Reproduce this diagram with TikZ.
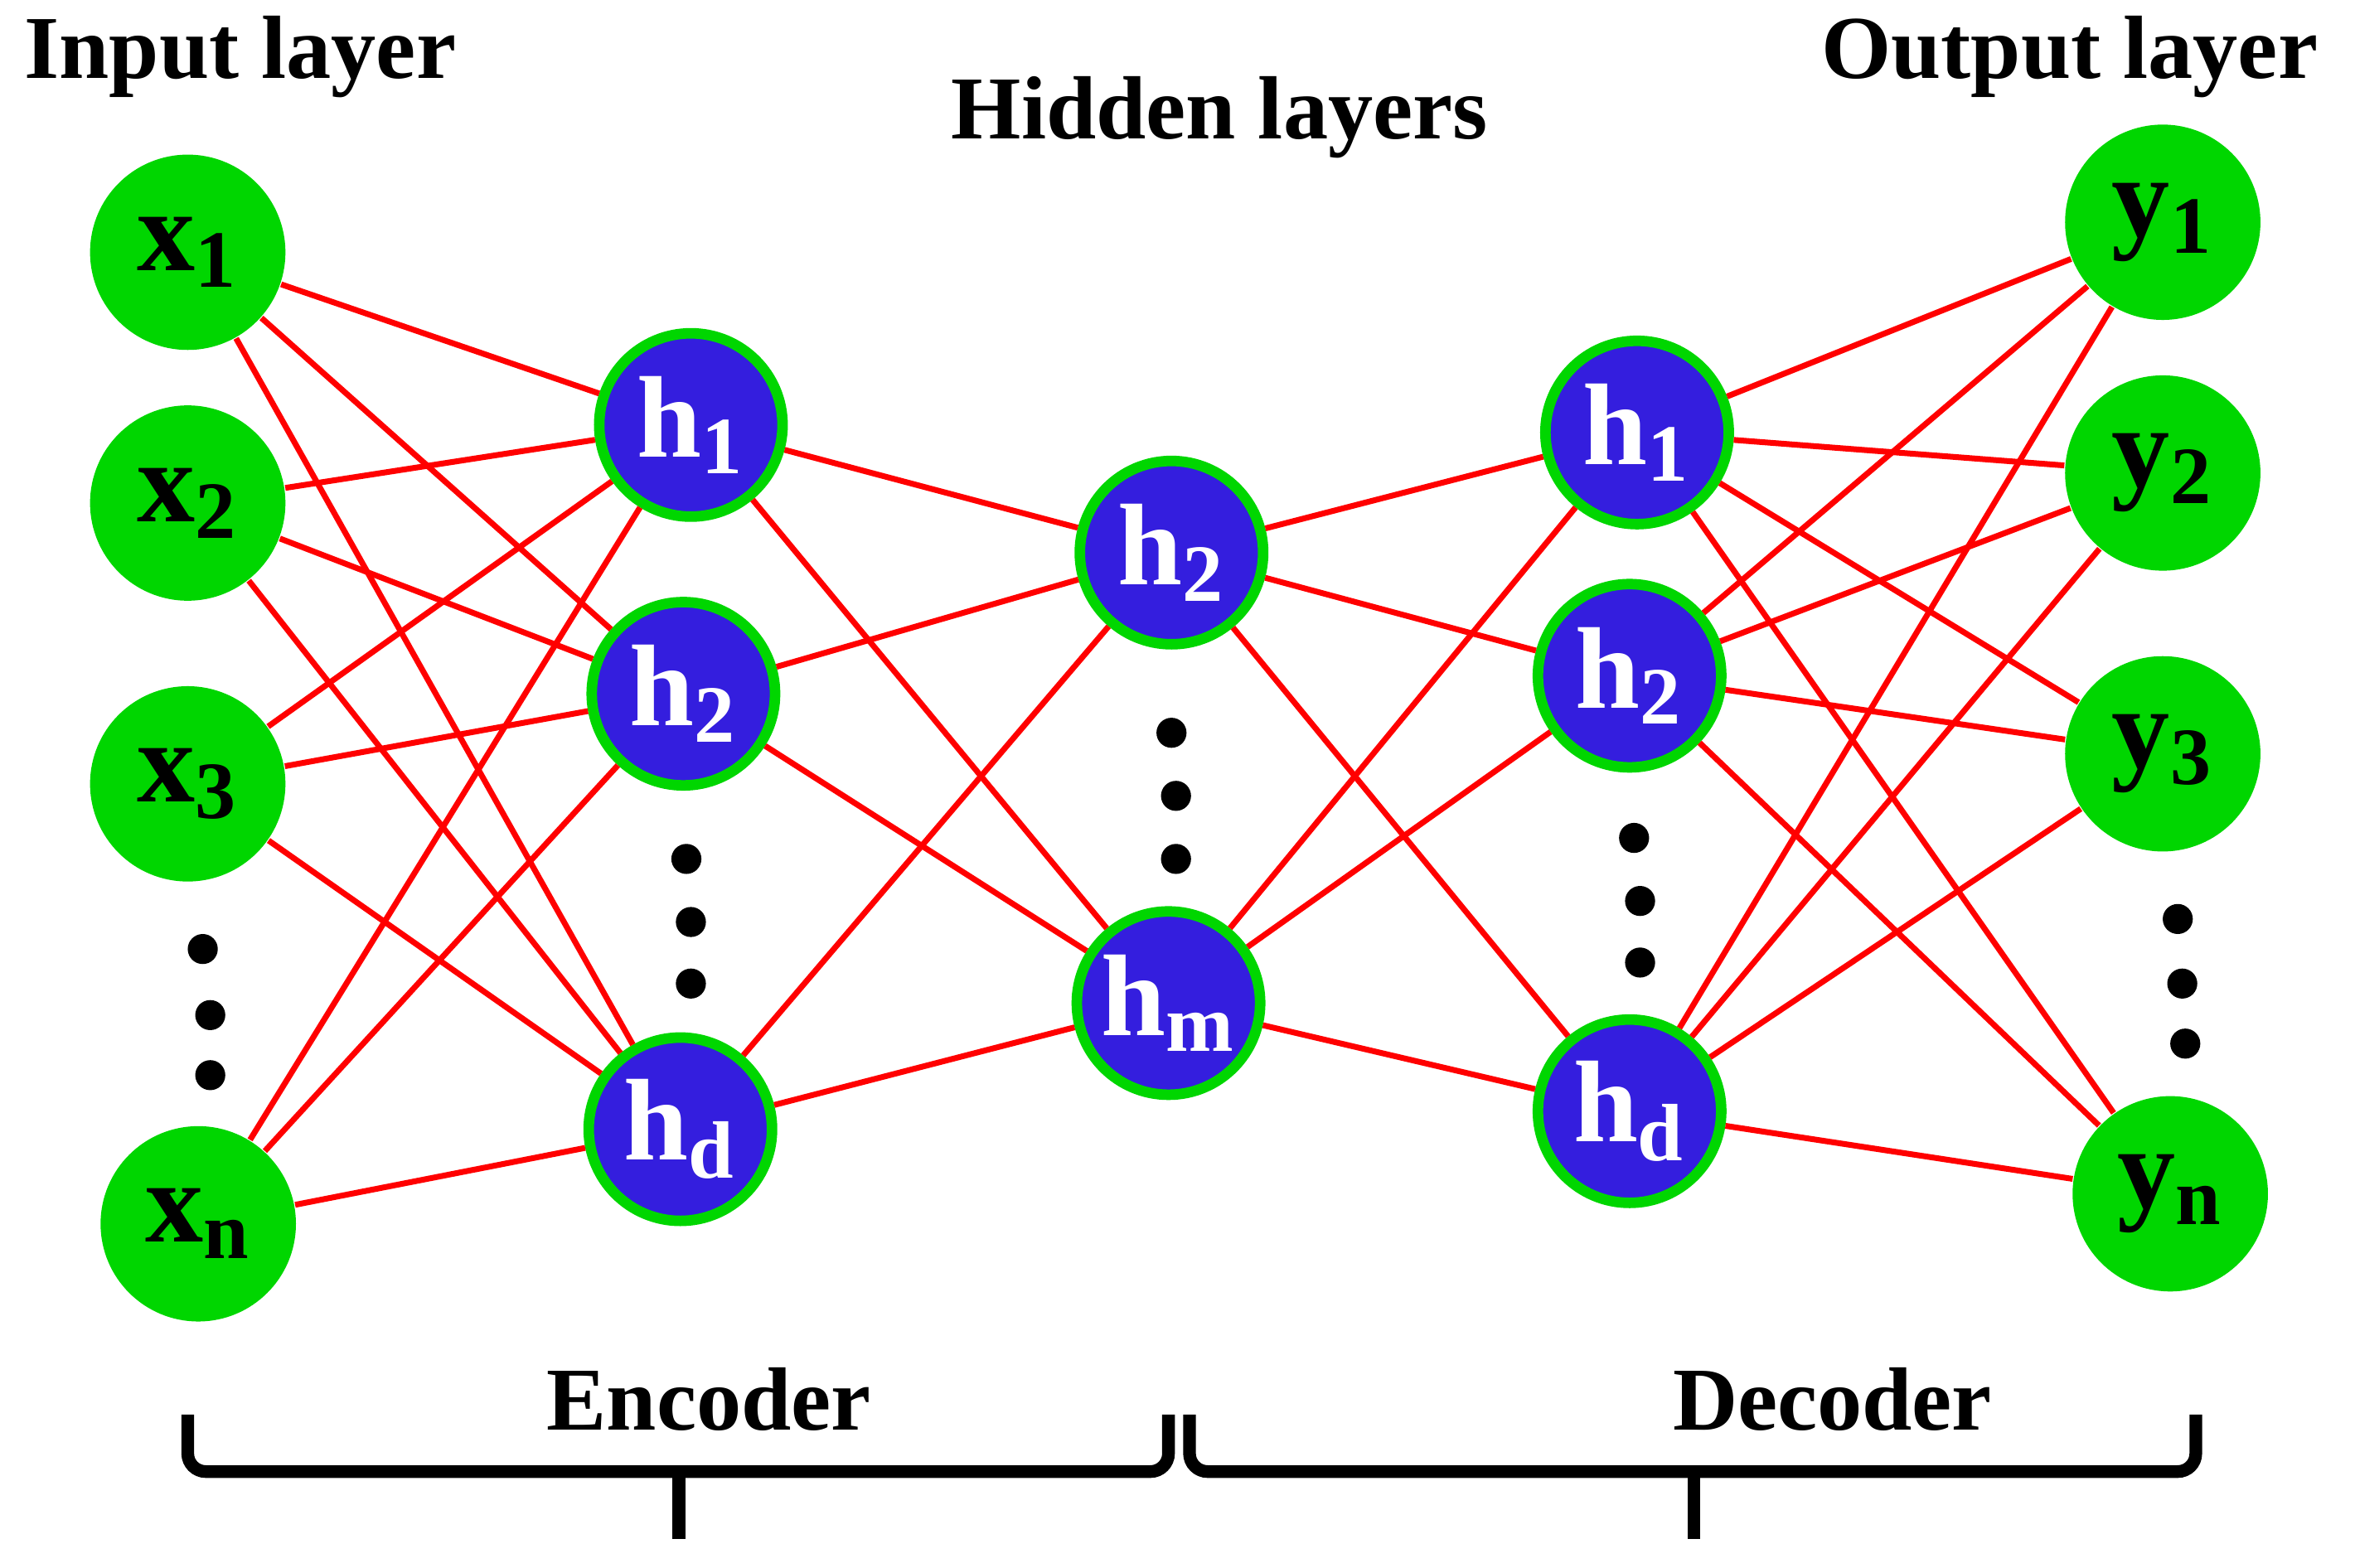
\documentclass[tikz,border=0pt]{standalone}
\usepackage{fontspec}
\setmainfont{Liberation Serif}
\usetikzlibrary{positioning}
\definecolor{mygreen}{RGB}{0,214,0}
\definecolor{myblue}{RGB}{52,30,222}
\definecolor{myred}{RGB}{255,0,0}
\begin{document}
\begin{tikzpicture}[
  x=0.01cm,y=-0.01cm,
  inp/.style={
    circle,
    fill=mygreen,
    minimum size=1.3cm,
    inner sep=0pt,
    font=\fontsize{22}{24}\selectfont\bfseries
    },
  hid/.style={
    circle,
    fill=myblue,
    draw=mygreen,
    line width=2pt,
    minimum size=1.22cm,
    inner sep=0pt,
    text=white,
    font=\fontsize{22}{24}\selectfont\bfseries
    },
  dot/.style={circle,fill=black,minimum size=0.2cm,inner sep=0pt},
  link/.style={draw=myred,line width=1.1pt},
  title/.style={font=\fontsize{17}{20}\selectfont\bfseries},
  brace/.style={line width=2.4pt,rounded corners=0.12cm}
]
\useasboundingbox (0,0) rectangle (1568,1044);
% layers
\node[inp] (x1) at (125,168) {x$_\mathbf{1}$};
\node[inp] (x2) at (125,335) {x$_\mathbf{2}$};
\node[inp] (x3) at (125,522) {x$_\mathbf{3}$};
\node[inp] (x4) at (132,815) {x$_\mathbf{n}$};
\node[hid] (a1) at (460,283) {h$_\mathbf{1}$};
\node[hid] (a2) at (455,462) {h$_\mathbf{2}$};
\node[hid] (a3) at (453,752) {h$_\mathbf{d}$};
\node[hid] (b1) at (780,368) {h$_\mathbf{2}$};
\node[hid] (b2) at (778,668) {h$_\mathbf{m}$};
\node[hid] (c1) at (1090,288) {h$_\mathbf{1}$};
\node[hid] (c2) at (1085,450) {h$_\mathbf{2}$};
\node[hid] (c3) at (1085,740) {h$_\mathbf{d}$};
\node[inp] (y1) at (1440,148) {y$_\mathbf{1}$};
\node[inp] (y2) at (1440,315) {y$_\mathbf{2}$};
\node[inp] (y3) at (1440,502) {y$_\mathbf{3}$};
\node[inp] (y4) at (1445,795) {y$_\mathbf{n}$};
% dots
\foreach \x/\y [count=\i] in {135/632,140/676,140/716} \node[dot] (dx\i) at (\x,\y) {};
\foreach \x/\y [count=\i] in {457/572,460/614,460/655} \node[dot] (da\i) at (\x,\y) {};
\foreach \x/\y [count=\i] in {780/488,783/530,783/572} \node[dot] (db\i) at (\x,\y) {};
\foreach \x/\y [count=\i] in {1088/558,1092/600,1092/641} \node[dot] (dc\i) at (\x,\y) {};
\foreach \x/\y [count=\i] in {1450/612,1453/655,1455/695} \node[dot] (dy\i) at (\x,\y) {};
% links
\foreach \i in {1,...,4}
  \foreach \j in {1,2,3} {
    \draw[link] (x\i) -- (a\j);
    \draw[link] (c\j) -- (y\i);
  }
\foreach \i in {1,2,3}
  \foreach \j in {1,2} {
    \draw[link] (a\i) -- (b\j);
    \draw[link] (b\j) -- (c\i);
  }
% titles
\node[title] (tin) at (160,38) {Input layer};
\node[title] (thid) at (812,78) {Hidden layers};
\node[title] (tout) at (1378,38) {Output layer};
\node[title] (tenc) at (472,932) {Encoder};
\node[title] (tdec) at (1220,932) {Decoder};
% braces
\coordinate (e1) at (125,942);
\coordinate (e2) at (778,942);
\coordinate (e3) at (452,1025);
\coordinate (d1) at (792,942);
\coordinate (d2) at (1462,942);
\coordinate (d3) at (1128,1025);
\draw[brace] (e1) -- (e1 |- 0,980) -- (e2 |- 0,980) -- (e2);
\draw[brace] (e3 |- 0,980) -- (e3);
\draw[brace] (d1) -- (d1 |- 0,980) -- (d2 |- 0,980) -- (d2);
\draw[brace] (d3 |- 0,980) -- (d3);
\end{tikzpicture}
\end{document}
